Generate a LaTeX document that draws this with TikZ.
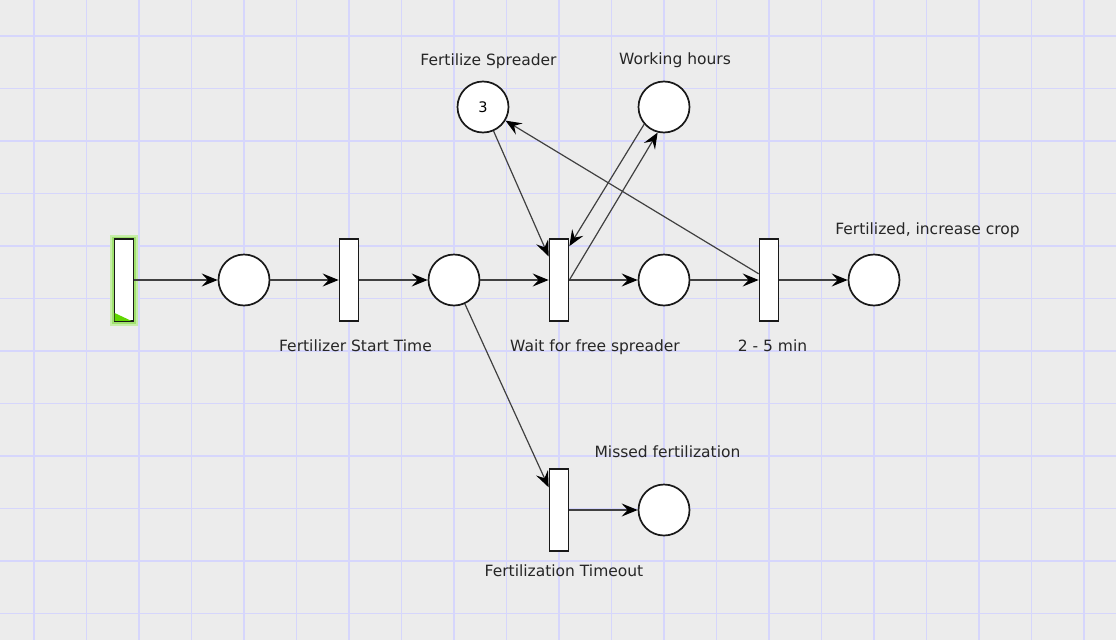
\documentclass[tikz,border=0pt]{standalone}
\usepackage{fontspec}
\setmainfont{DejaVu Sans}
\usetikzlibrary{arrows.meta,positioning}
\definecolor{bggray}{RGB}{236,236,236}
\definecolor{gridblue}{RGB}{214,214,252}
\definecolor{arcgray}{RGB}{64,64,64}
\definecolor{glowgreen}{RGB}{160,225,110}
\definecolor{tokgreen}{RGB}{96,214,0}

\tikzset{
  place/.style={circle, draw=black!90, line width=1.7pt, fill=white, minimum size=51pt, inner sep=0pt},
  trans/.style={rectangle, draw=black!90, line width=1.7pt, fill=white, minimum width=19pt, minimum height=82pt, inner sep=0pt},
  enabled/.style={preaction={draw=glowgreen!60, line width=9pt}, preaction={draw=glowgreen, line width=5pt}},
  lbl/.style={font=\fontsize{15.5}{18}\selectfont, text=black!85, anchor=base, inner sep=0pt},
  arc/.style={-{Stealth[length=16pt,width=13pt,inset=6pt,black]}, draw=arcgray, line width=1.2pt},
  gridline/.style={draw=gridblue, line width=1.9pt}
}

\begin{document}
\begin{tikzpicture}[x=1pt, y=-1pt, node distance=105pt]
\fill[bggray] (0,0) rectangle (1116,640);
\useasboundingbox (0,0) rectangle (1116,640);
% grid
\foreach \gx in {0,...,20}
  \draw[gridline] (34+52.5*\gx,0) -- (34+52.5*\gx,640);
\foreach \gy in {0,...,11}
  \draw[gridline] (0,36+52.5*\gy) -- (1116,36+52.5*\gy);

% main row
\node[trans, enabled] (t0) at (124,280) {};
\fill[tokgreen] ([shift={(0.9pt,0.9pt)}]t0.south west) -- ++(0pt,8pt) -- ++(17pt,-8pt) -- cycle;
\node[place, right of = t0, node distance = 120pt] (p1) {};
\node[trans, right of = p1] (t1) {};
\node[place, right of = t1] (p2) {};
\node[trans, right of = p2] (t2) {};
\node[place, right of = t2] (p3) {};
\node[trans, right of = p3] (t3) {};
\node[place, right of = t3] (p4) {};

% resources
\node[place, font=\fontsize{14.5}{17}\selectfont] (spreader) at (483,107) {3};
\node[place, above of = p3, node distance = 173pt] (hours) {};

% timeout branch
\node[trans, below of = t2, node distance = 230pt] (t4) {};
\node[place, right of = t4] (p5) {};

% labels
\node[lbl] (lspreader) at (488.5,65.5) {Fertilize Spreader};
\node[lbl] (lhours) at (675,64) {Working hours};
\node[lbl] (lcrop) at (927.5,234) {Fertilized, increase crop};
\node[lbl] (lstart) at (355.5,351.5) {Fertilizer Start Time};
\node[lbl] (lwait) at (595,351.5) {Wait for free spreader};
\node[lbl] (lmin) at (772.5,351.5) {2 - 5 min};
\node[lbl] (lmissed) at (667.5,457) {Missed fertilization};
\node[lbl] (ltimeout) at (564,576) {Fertilization Timeout};

% arcs
\draw[arc] (t0) -- (p1);
\draw[arc] (p1) -- (t1);
\draw[arc] (t1) -- (p2);
\draw[arc] (p2) -- (t2);
\draw[arc] (t2) -- (p3);
\draw[arc] (p3) -- (t3);
\draw[arc] (t3) -- (p4);
\draw[arc] (spreader) -- (t2);
\draw[arc] (hours.221) -- (t2.73);
\draw[arc] (t2.east) -- (hours.256);
\draw[arc] (t3) -- (spreader);
\draw[arc] (p2) -- (t4);
\draw[arc] (t4) -- (p5);
\end{tikzpicture}
\end{document}
